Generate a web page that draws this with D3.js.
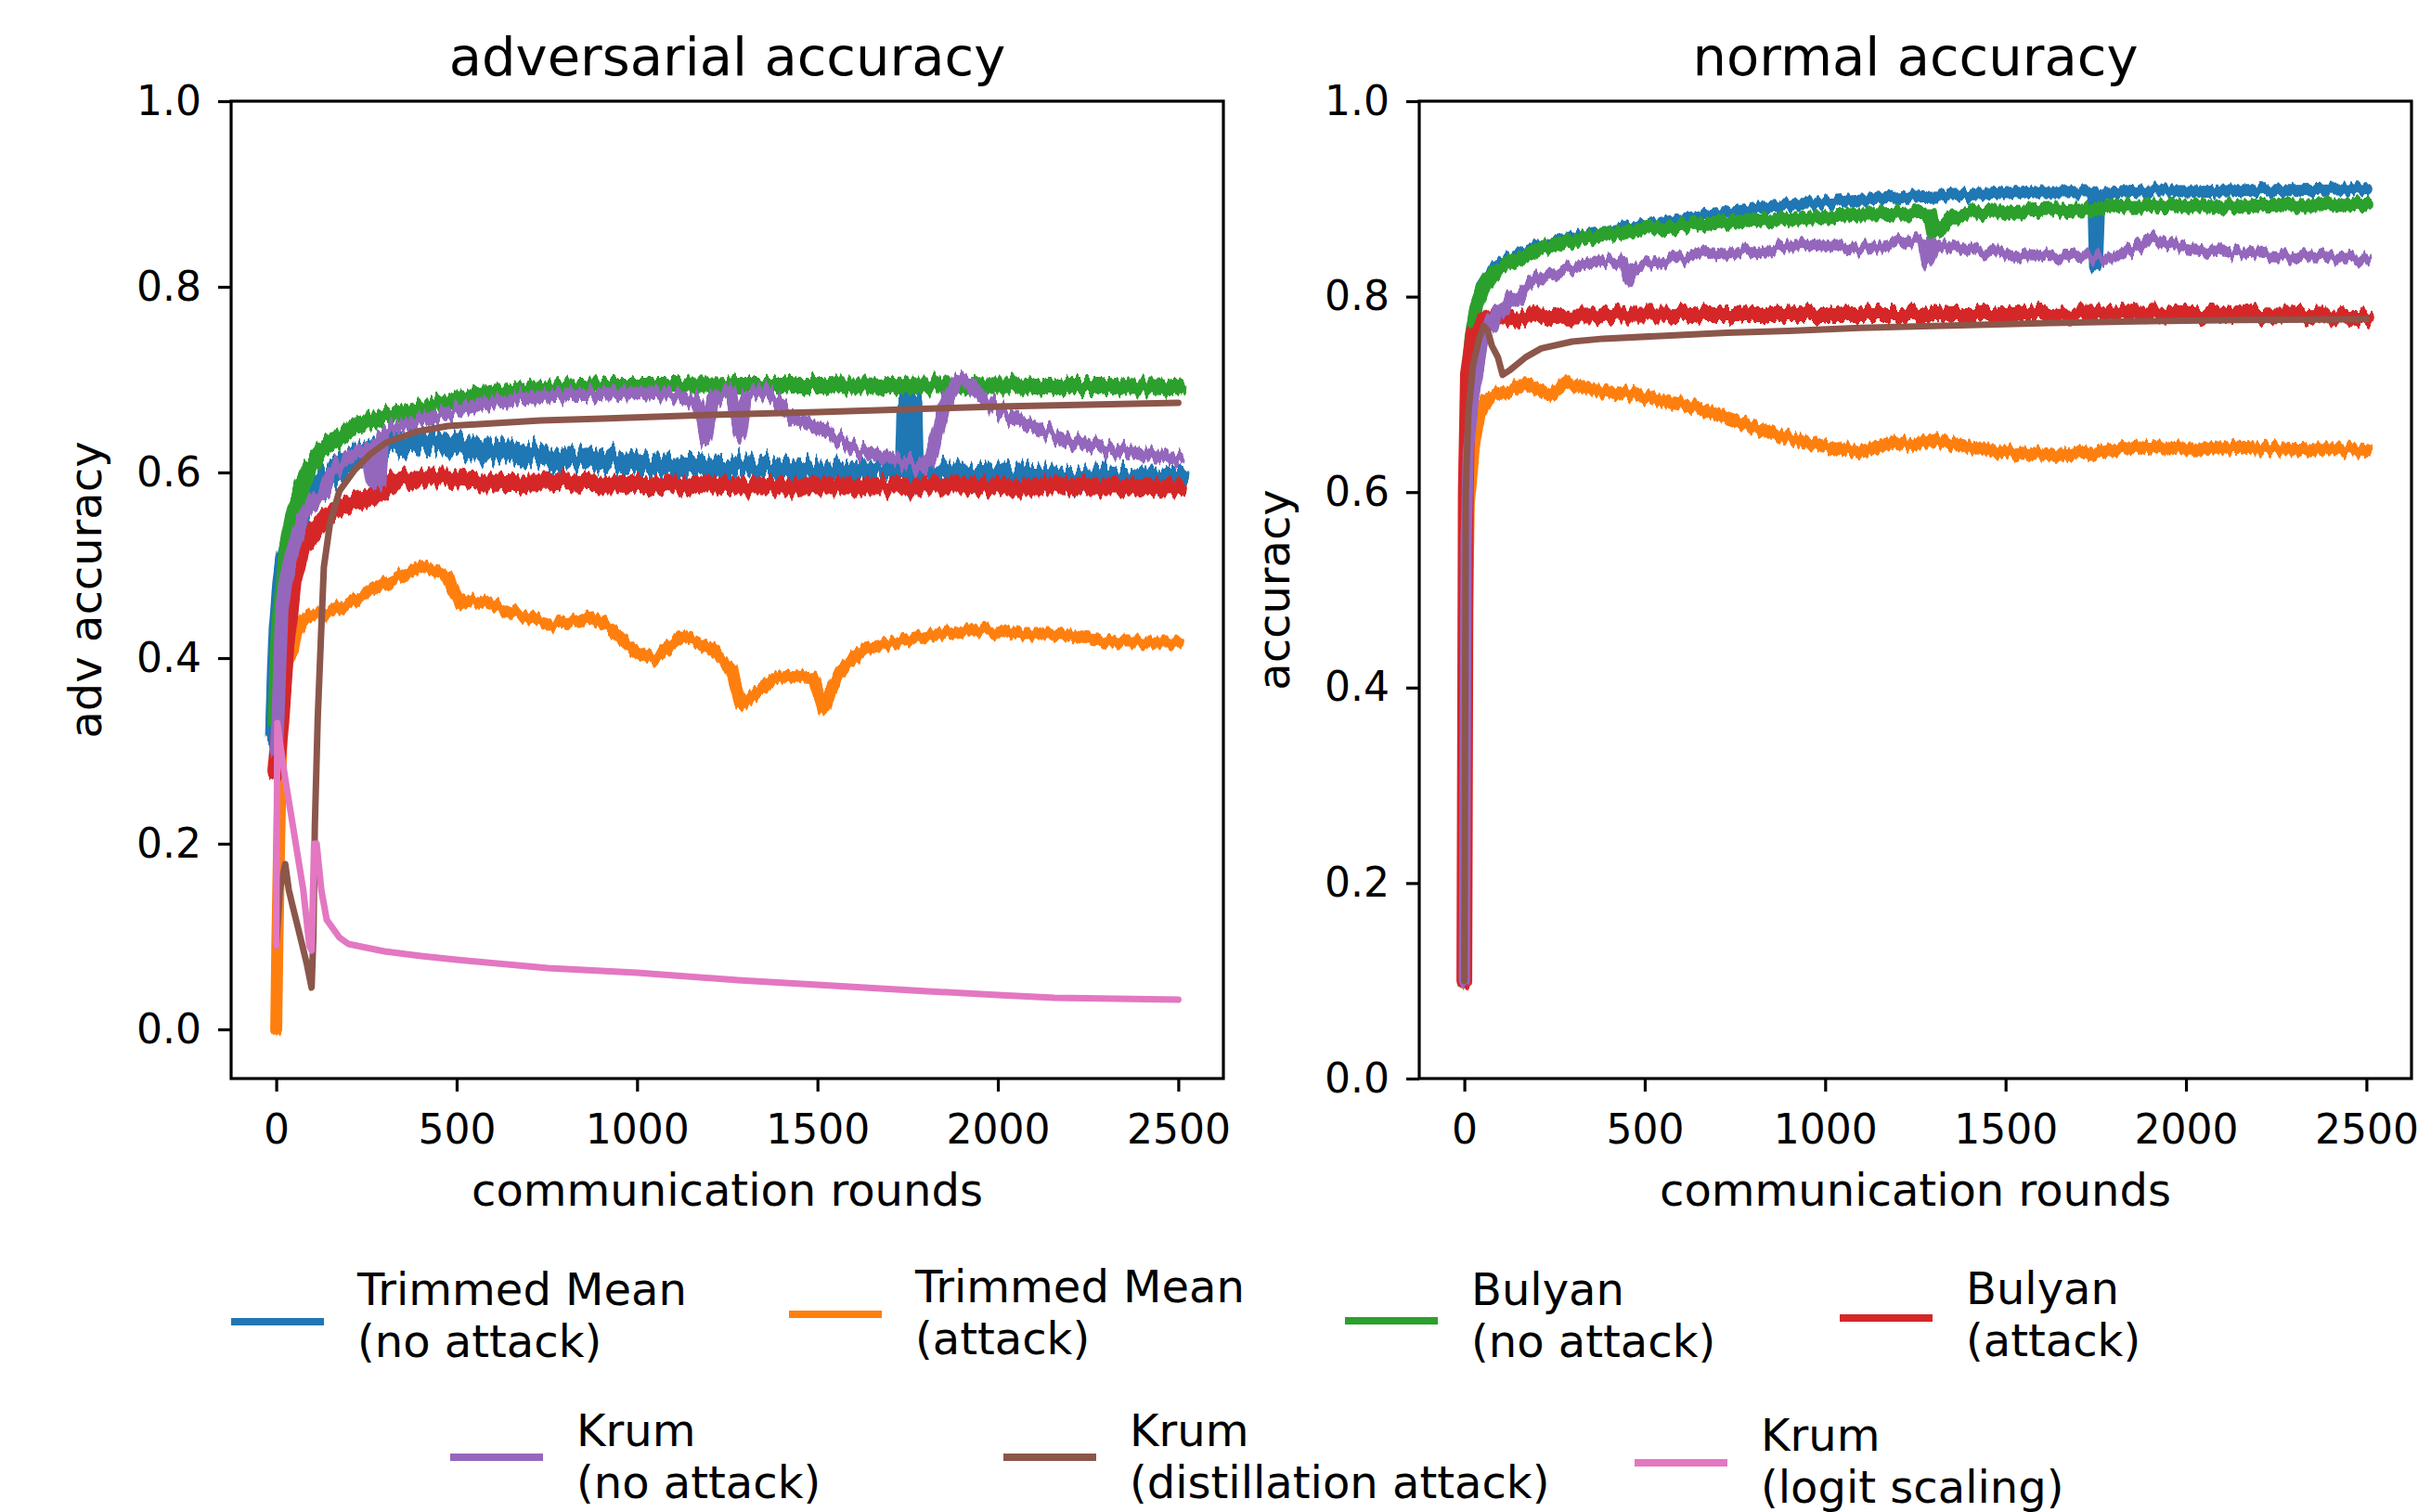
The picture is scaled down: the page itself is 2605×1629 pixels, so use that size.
<!DOCTYPE html>
<html>
<head>
<meta charset="utf-8">
<script src="https://cdn.jsdelivr.net/npm/d3@7"></script>
<style>
  body { margin: 0; background: #fff; }
  text { font-family: "DejaVu Sans", sans-serif; fill: #000; }
</style>
</head>
<body>
<svg id="chart" width="2605" height="1629"></svg>
<script>
// ---- data ----
const xTicks = [0, 500, 1000, 1500, 2000, 2500];
const yTicks = [0, 0.2, 0.4, 0.6, 0.8, 1.0];
const seriesLabels = [
  ['Trimmed Mean', '(no attack)'],
  ['Trimmed Mean', '(attack)'],
  ['Bulyan', '(no attack)'],
  ['Bulyan', '(attack)'],
  ['Krum', '(no attack)'],
  ['Krum', '(distillation attack)'],
  ['Krum', '(logit scaling)']
];
const seriesColors = ['#1f77b4', '#ff7f0e', '#2ca02c', '#d62728', '#9467bd', '#8c564b', '#e377c2'];

// adversarial accuracy: [round, value]
const advTrimmedNoAttack = [[0,0.32],[5,0.38],[10,0.43],[20,0.48],[30,0.51],[50,0.54],[75,0.565],[100,0.58],[150,0.60],[200,0.615],[300,0.628],[400,0.635],[470,0.632],[541,0.628],[650,0.622],[737,0.617],[818,0.612],[904,0.613],[1033,0.608],[1150,0.607],[1250,0.606],[1370,0.605],[1500,0.602],[1600,0.601],[1700,0.60],[1745,0.60],[1750,0.675],[1760,0.675],[1765,0.59],[1775,0.60],[1850,0.598],[1959,0.597],[2100,0.595],[2200,0.594],[2350,0.593],[2478,0.592],[2500,0.592]];
const advTrimmedAttack = [[0,0.0],[3,0.09],[8,0.2],[15,0.33],[30,0.4],[46,0.405],[55,0.428],[89,0.446],[132,0.446],[218,0.463],[304,0.481],[402,0.499],[441,0.495],[472,0.49],[510,0.458],[527,0.463],[577,0.46],[665,0.447],[753,0.437],[840,0.438],[876,0.445],[928,0.431],[999,0.406],[1051,0.399],[1121,0.422],[1160,0.42],[1209,0.41],[1262,0.388],[1288,0.349],[1332,0.363],[1380,0.378],[1420,0.381],[1490,0.378],[1516,0.345],[1560,0.385],[1630,0.41],[1718,0.417],[1806,0.424],[1946,0.431],[2069,0.426],[2157,0.426],[2333,0.417],[2500,0.417]];
const advBulyanNoAttack = [[0,0.33],[5,0.40],[10,0.44],[21,0.481],[34,0.522],[46,0.551],[72,0.586],[98,0.609],[132,0.626],[175,0.638],[218,0.65],[304,0.661],[389,0.667],[475,0.676],[561,0.684],[647,0.687],[733,0.69],[904,0.693],[1100,0.693],[1300,0.694],[1500,0.694],[1700,0.693],[1900,0.694],[2100,0.693],[2300,0.693],[2500,0.692]];
const advBulyanAttack = [[0,0.28],[12,0.335],[25,0.405],[46,0.481],[72,0.522],[98,0.533],[132,0.551],[175,0.562],[218,0.568],[261,0.574],[304,0.58],[321,0.59],[389,0.594],[475,0.594],[561,0.591],[733,0.59],[904,0.588],[1100,0.587],[1300,0.585],[1500,0.585],[1700,0.585],[1900,0.585],[2100,0.585],[2300,0.585],[2500,0.584]];
const advKrumNoAttack = [[0,0.30],[4,0.33],[16,0.452],[29,0.487],[46,0.516],[72,0.551],[98,0.568],[132,0.58],[158,0.603],[201,0.615],[252,0.625],[265,0.59],[280,0.63],[287,0.592],[295,0.64],[304,0.644],[389,0.655],[475,0.664],[561,0.673],[650,0.678],[733,0.682],[818,0.684],[904,0.684],[1000,0.686],[1100,0.684],[1170,0.675],[1191,0.635],[1210,0.68],[1260,0.688],[1286,0.64],[1300,0.68],[1345,0.69],[1380,0.68],[1427,0.66],[1500,0.648],[1605,0.625],[1700,0.615],[1760,0.61],[1794,0.605],[1817,0.62],[1850,0.67],[1888,0.70],[1920,0.695],[1959,0.68],[2000,0.668],[2077,0.652],[2150,0.642],[2195,0.634],[2250,0.63],[2314,0.625],[2400,0.62],[2478,0.615],[2500,0.614]];
const advKrumDistill = [[0,0.09],[10,0.15],[25,0.178],[35,0.15],[46,0.132],[60,0.11],[72,0.091],[85,0.07],[98,0.045],[103,0.1],[107,0.219],[115,0.335],[124,0.423],[132,0.498],[149,0.545],[175,0.58],[218,0.603],[261,0.62],[304,0.632],[389,0.644],[475,0.65],[561,0.652],[733,0.656],[904,0.658],[1200,0.662],[1500,0.665],[2000,0.671],[2500,0.675]];
const advKrumLogit = [[0,0.09],[3,0.33],[10,0.31],[25,0.27],[50,0.21],[75,0.15],[92,0.09],[98,0.085],[105,0.2],[112,0.2],[125,0.15],[140,0.118],[175,0.099],[200,0.092],[300,0.084],[402,0.079],[500,0.075],[753,0.066],[1000,0.061],[1279,0.053],[1500,0.048],[1806,0.041],[2000,0.037],[2157,0.034],[2500,0.032]];

// normal accuracy: [round, value]
const accTrimmedNoAttack = [[0,0.1],[3,0.6],[10,0.725],[20,0.76],[33,0.79],[50,0.81],[84,0.83],[127,0.84],[213,0.852],[299,0.86],[385,0.866],[470,0.871],[572,0.877],[728,0.885],[834,0.892],[899,0.894],[1097,0.899],[1228,0.902],[1360,0.904],[1500,0.906],[1622,0.907],[1743,0.907],[1748,0.831],[1754,0.84],[1760,0.9],[1775,0.906],[1885,0.908],[2016,0.908],[2147,0.909],[2300,0.909],[2500,0.91]];
const accTrimmedAttack = [[0,0.1],[5,0.45],[11,0.585],[24,0.642],[41,0.68],[59,0.693],[84,0.7],[127,0.703],[170,0.712],[213,0.703],[239,0.7],[282,0.712],[342,0.706],[385,0.703],[470,0.7],[556,0.693],[642,0.687],[728,0.676],[813,0.665],[899,0.655],[966,0.649],[1097,0.641],[1189,0.651],[1250,0.648],[1307,0.654],[1386,0.646],[1491,0.641],[1622,0.638],[1753,0.641],[1885,0.646],[2016,0.644],[2147,0.646],[2278,0.644],[2500,0.643]];
const accBulyanNoAttack = [[0,0.1],[3,0.6],[10,0.72],[20,0.757],[33,0.789],[50,0.808],[84,0.827],[127,0.836],[213,0.849],[299,0.857],[385,0.863],[556,0.871],[728,0.876],[899,0.88],[1097,0.884],[1228,0.885],[1290,0.886],[1300,0.866],[1320,0.87],[1350,0.882],[1400,0.886],[1622,0.889],[1885,0.892],[2147,0.893],[2500,0.894]];
const accBulyanAttack = [[0,0.1],[4,0.6],[10,0.72],[25,0.76],[50,0.774],[67,0.779],[127,0.777],[213,0.78],[400,0.781],[600,0.782],[800,0.782],[1000,0.782],[1200,0.782],[1400,0.782],[1600,0.782],[1800,0.783],[2000,0.782],[2200,0.782],[2500,0.78]];
const accKrumNoAttack = [[0,0.1],[5,0.55],[11,0.642],[24,0.693],[41,0.731],[55,0.76],[67,0.776],[80,0.77],[93,0.789],[110,0.785],[127,0.801],[150,0.795],[170,0.808],[213,0.821],[250,0.825],[299,0.83],[385,0.837],[440,0.835],[453,0.818],[470,0.833],[556,0.837],[642,0.843],[728,0.846],[813,0.846],[899,0.852],[966,0.853],[1097,0.849],[1228,0.858],[1270,0.855],[1281,0.834],[1307,0.857],[1350,0.852],[1425,0.847],[1491,0.844],[1622,0.842],[1727,0.841],[1819,0.841],[1860,0.85],[1898,0.861],[1950,0.853],[2016,0.849],[2147,0.844],[2278,0.841],[2410,0.839],[2500,0.838]];
const accKrumDistill = [[0,0.1],[4,0.6],[11,0.68],[24,0.73],[41,0.757],[54,0.77],[65,0.765],[76,0.75],[93,0.738],[106,0.72],[127,0.725],[170,0.738],[213,0.747],[299,0.754],[385,0.757],[556,0.76],[728,0.763],[899,0.765],[1097,0.768],[1400,0.771],[1622,0.773],[1900,0.775],[2147,0.776],[2500,0.777]];

// ---- layout ----
const svg = d3.select('#chart');
const defs = svg.append('defs');
const axW = 1069, axH = 1053, axTop = 109;

// ragged edges for the noisy training curves (visual texture only, data untouched)
function jitterFilter(id, scale, seed) {
  const f = defs.append('filter').attr('id', id)
    .attr('filterUnits', 'userSpaceOnUse')
    .attr('x', -300).attr('y', -200).attr('width', 1700).attr('height', 1500)
    .attr('color-interpolation-filters', 'sRGB');
  f.append('feTurbulence').attr('type', 'fractalNoise')
    .attr('baseFrequency', '0.2 0.003').attr('numOctaves', 2).attr('seed', seed).attr('result', 'n');
  f.append('feColorMatrix').attr('in', 'n').attr('type', 'matrix')
    .attr('values', '0 0 0 0 0.5  0 1 0 0 0  0 0 1 0 0  0 0 0 0 1').attr('result', 'm');
  f.append('feDisplacementMap').attr('in', 'SourceGraphic').attr('in2', 'm')
    .attr('scale', scale).attr('xChannelSelector', 'R').attr('yChannelSelector', 'G');
}

const panels = [
  {
    title: 'adversarial accuracy', ylabel: 'adv accuracy', left: 249, yDomain: [-0.053, 1],
    series: [advTrimmedNoAttack, advTrimmedAttack, advBulyanNoAttack, advBulyanAttack, advKrumNoAttack, advKrumDistill, advKrumLogit],
    widths: [24, 13, 18, 19, 14, 7, 7],
    jitter: [36, 14, 20, 20, 26, 0, 0]
  },
  {
    title: 'normal accuracy', ylabel: 'accuracy', left: 1529, yDomain: [0, 1],
    series: [accTrimmedNoAttack, accTrimmedAttack, accBulyanNoAttack, accBulyanAttack, accKrumNoAttack, accKrumDistill],
    widths: [13, 14, 15, 17, 12, 7],
    jitter: [12, 16, 14, 18, 18, 0]
  }
];

panels.forEach((p, pi) => {
  const g = svg.append('g').attr('transform', `translate(${p.left},${axTop})`);
  const x = d3.scaleLinear().domain([-125, 2625]).range([0, axW]);
  const y = d3.scaleLinear().domain(p.yDomain).range([axH, 0]);

  g.append('clipPath').attr('id', 'clip' + pi)
    .append('rect').attr('width', axW).attr('height', axH);

  const line = d3.line().x(d => x(d[0])).y(d => y(d[1]));
  const lines = g.append('g').attr('clip-path', `url(#clip${pi})`);
  p.series.forEach((s, i) => {
    const path = lines.append('path')
      .datum(s)
      .attr('d', line)
      .attr('fill', 'none')
      .attr('stroke', seriesColors[i])
      .attr('stroke-width', p.widths[i])
      .attr('stroke-linejoin', 'round')
      .attr('stroke-linecap', 'round');
    if (p.jitter[i] > 0) {
      const fid = `jit${pi}_${i}`;
      jitterFilter(fid, p.jitter[i], 3 + i * 7 + pi * 13);
      path.attr('filter', `url(#${fid})`);
    }
  });

  const xAxis = g.append('g').attr('transform', `translate(0,${axH})`)
    .call(d3.axisBottom(x).tickValues(xTicks).tickFormat(d3.format('d')).tickSize(14).tickPadding(25));
  const yAxis = g.append('g')
    .call(d3.axisLeft(y).tickValues(yTicks).tickFormat(d3.format('.1f')).tickSize(14).tickPadding(18));
  [xAxis, yAxis].forEach(a => {
    a.select('.domain').remove();
    a.selectAll('line').attr('stroke', '#000').attr('stroke-width', 3.2);
    a.selectAll('text').attr('font-size', 44).attr('font-family', '"DejaVu Sans", sans-serif').style('fill', '#000');
  });

  g.append('rect')
    .attr('width', axW).attr('height', axH)
    .attr('fill', 'none').attr('stroke', '#000').attr('stroke-width', 3.2);

  g.append('text')
    .attr('x', axW / 2).attr('y', -28)
    .attr('text-anchor', 'middle').attr('font-size', 57.6)
    .text(p.title);

  g.append('text')
    .attr('x', axW / 2).attr('y', axH + 137)
    .attr('text-anchor', 'middle').attr('font-size', 48)
    .text('communication rounds');

  g.append('text')
    .attr('transform', `translate(-140,${axH / 2}) rotate(-90)`)
    .attr('text-anchor', 'middle').attr('font-size', 48)
    .text(p.ylabel);
});

// ---- legend ----
const legendSlots = [
  { x: 249, y: 1424, ty: 1406 },
  { x: 850, y: 1416, ty: 1403 },
  { x: 1449, y: 1423, ty: 1406 },
  { x: 1982, y: 1420, ty: 1405 },
  { x: 485, y: 1570, ty: 1558 },
  { x: 1081, y: 1570, ty: 1558 },
  { x: 1761, y: 1576, ty: 1563 }
];

const legend = svg.append('g');
seriesLabels.forEach((lab, i) => {
  const s = legendSlots[i];
  legend.append('line')
    .attr('x1', s.x).attr('x2', s.x + 100)
    .attr('y1', s.y).attr('y2', s.y)
    .attr('stroke', seriesColors[i]).attr('stroke-width', 8);
  const t = legend.append('text').attr('font-size', 48);
  lab.forEach((ln, k) => {
    t.append('tspan').attr('x', s.x + 136).attr('y', s.ty + k * 56).text(ln);
  });
});
</script>
</body>
</html>
